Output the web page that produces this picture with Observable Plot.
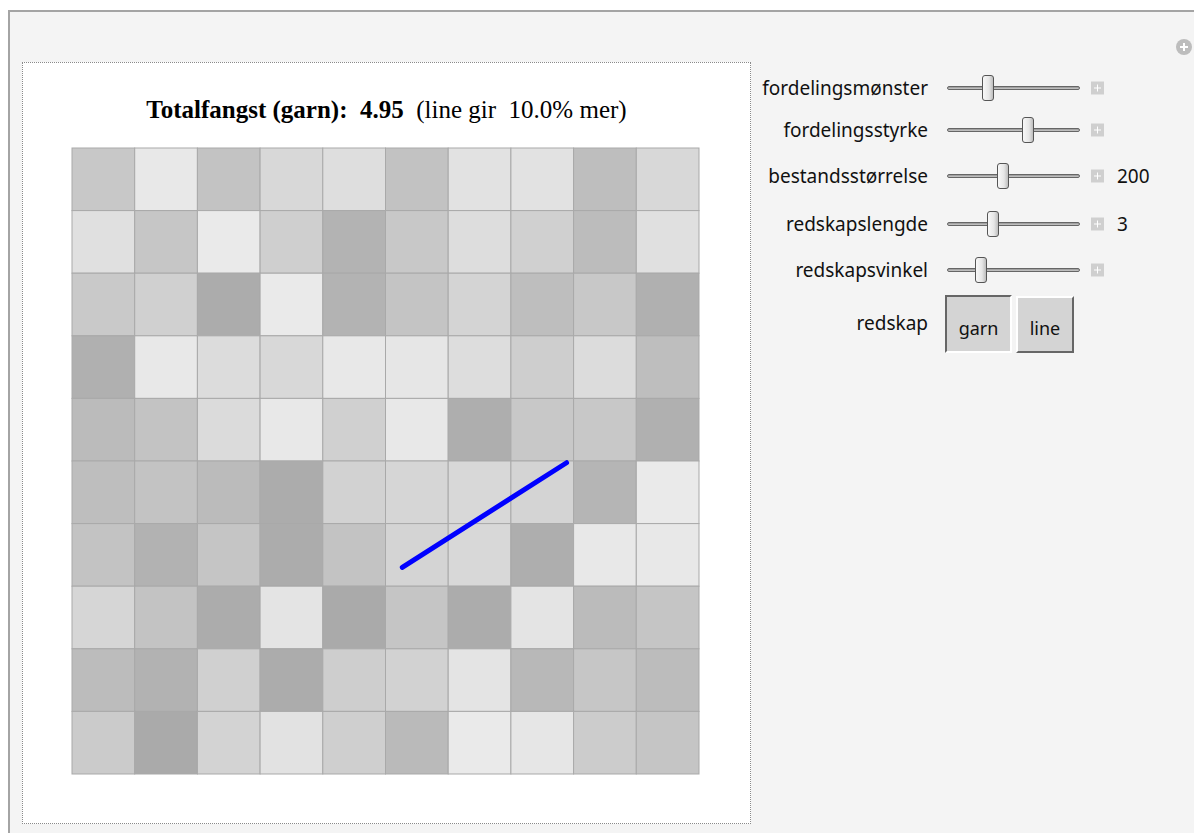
<!DOCTYPE html>
<html>
<head>
<meta charset="utf-8">
<script src="https://cdn.jsdelivr.net/npm/d3@7"></script>
<script src="https://cdn.jsdelivr.net/npm/@observablehq/plot@0.6"></script>
<style>
  html, body { margin: 0; padding: 0; background: #fff; }
  body { width: 1194px; height: 833px; position: relative; overflow: hidden; font-family: "Noto Sans", "Open Sans", sans-serif; }
  #frame { position: absolute; left: 8px; top: 10px; width: 1186px; height: 823px; background: #f4f4f4; border-left: 2px solid #a4a4a4; border-top: 2px solid #a4a4a4; box-sizing: border-box; }
  #panel { position: absolute; left: 22px; top: 62px; width: 729px; height: 762px; background: #fff; border: 1px dotted #8a8a8a; box-sizing: border-box; }
  #title { position: absolute; left: 0; width: 100%; top: 33px; text-align: center; font-family: "Liberation Serif", "DejaVu Serif", serif; font-size: 25px; color: #000; white-space: pre; }
  #chart { position: absolute; left: 48px; top: 84px; }
  .lab { position: absolute; right: 266px; font-size: 19px; color: #111; white-space: nowrap; transform: translateY(-50%); }
  .track { position: absolute; left: 947px; width: 133px; height: 4px; border-radius: 2px; background: linear-gradient(#777, #ddd 60%, #888); border: 1px solid #666; box-sizing: border-box; transform: translateY(-50%); }
  .knob { position: absolute; width: 12px; height: 26px; border-radius: 3px; border: 1px solid #555; background: linear-gradient(to right, #f8f8f8, #e6e6e6 60%, #bdbdbd); box-sizing: border-box; transform: translate(-50%, -50%); }
  .plus { position: absolute; left: 1091px; width: 13px; height: 13px; background: #cfcfcf; transform: translateY(-50%); }
  .plus::before { content: ""; position: absolute; left: 3px; top: 6px; width: 7px; height: 1px; background: #fff; }
  .plus::after { content: ""; position: absolute; left: 6px; top: 3px; width: 1px; height: 7px; background: #fff; }
  .val { position: absolute; left: 1117px; font-size: 19px; color: #111; transform: translateY(-50%); }
  .btn { position: absolute; background: #d4d4d4; font-size: 18px; color: #111; box-sizing: border-box; text-align: center; }
  #circ { position: absolute; left: 1176px; top: 39px; width: 16px; height: 16px; border-radius: 50%; background: #bdbdbd; }
  #circ::before { content: ""; position: absolute; left: 4px; top: 7px; width: 8px; height: 2px; background: #fff; }
  #circ::after { content: ""; position: absolute; left: 7px; top: 4px; width: 2px; height: 8px; background: #fff; }
</style>
</head>
<body>
<div id="frame"></div>
<div id="circ"></div>
<div id="panel">
  <div id="title"><b>Totalfangst (garn):  4.95</b>  (line gir  10.0% mer)</div>
  <div id="chart"></div>
</div>
<div id="controls"></div>
<script>
// Grid cell grey levels (0-255), rows from top (row 0) to bottom (row 9), columns left to right
const rad1  = [200, 232, 195, 216, 222, 194, 226, 226, 190, 216];
const rad2  = [224, 198, 234, 207, 179, 200, 221, 208, 188, 224];
const rad3  = [201, 208, 172, 234, 179, 196, 212, 190, 200, 176];
const rad4  = [176, 232, 220, 216, 232, 230, 221, 206, 220, 190];
const rad5  = [187, 195, 219, 232, 208, 232, 174, 200, 200, 176];
const rad6  = [190, 195, 187, 172, 210, 214, 216, 212, 181, 234];
const rad7  = [195, 178, 197, 172, 195, 212, 216, 174, 232, 232];
const rad8  = [214, 195, 172, 228, 170, 197, 172, 228, 187, 197];
const rad9  = [188, 178, 208, 172, 206, 210, 228, 184, 198, 188];
const rad10 = [203, 170, 211, 226, 207, 186, 234, 230, 204, 197];
const rader = [rad1, rad2, rad3, rad4, rad5, rad6, rad7, rad8, rad9, rad10];

// Gear (blue line) endpoints in grid units
const redskapX = [5.26, 7.88];
const redskapY = [3.31, 4.98];

// Control panel values
const kontrollNavn = ["fordelingsmønster", "fordelingsstyrke", "bestandsstørrelse", "redskapslengde", "redskapsvinkel"];
const kontrollPos  = [0.29, 0.62, 0.41, 0.33, 0.23];
const kontrollVerdi = ["", "", "200", "3", ""];

const celler = [];
rader.forEach((rad, r) => rad.forEach((g, c) => {
  celler.push({x1: c, x2: c + 1, y1: 9 - r, y2: 10 - r, grå: g});
}));
const linje = redskapX.map((x, i) => ({x, y: redskapY[i]}));

const plot = Plot.plot({
  width: 629,
  height: 628,
  marginTop: 1, marginRight: 1, marginBottom: 1, marginLeft: 1,
  x: {domain: [0, 10], axis: null},
  y: {domain: [0, 10], axis: null},
  color: {type: "linear", domain: [0, 255], range: ["rgb(0,0,0)", "rgb(255,255,255)"]},
  marks: [
    Plot.rect(celler, {x1: "x1", x2: "x2", y1: "y1", y2: "y2", fill: "grå", stroke: "#a9a9a9", strokeWidth: 1}),
    Plot.line(linje, {x: "x", y: "y", stroke: "#0000ff", strokeWidth: 5})
  ]
});
document.getElementById("chart").appendChild(plot);

// Controls (HTML)
const rowsY = [88, 130, 176, 224, 270];
const ctl = document.getElementById("controls");
kontrollNavn.forEach((navn, i) => {
  const y = rowsY[i];
  ctl.insertAdjacentHTML("beforeend",
    `<div class="lab" style="top:${y}px">${navn}</div>
     <div class="track" style="top:${y}px"></div>
     <div class="knob" style="left:${947 + 6 + kontrollPos[i] * 121}px; top:${y}px"></div>
     <div class="plus" style="top:${y}px"></div>
     ${kontrollVerdi[i] ? `<div class="val" style="top:${y}px">${kontrollVerdi[i]}</div>` : ""}`);
});
ctl.insertAdjacentHTML("beforeend",
  `<div class="lab" style="top:323px">redskap</div>
   <div class="btn" style="left:945px; top:295px; width:67px; height:58px; border-top:2px solid #666; border-left:2px solid #666; border-right:2px solid #fff; border-bottom:2px solid #fff; line-height:62px;">garn</div>
   <div class="btn" style="left:1016px; top:296px; width:58px; height:57px; border-top:2px solid #fff; border-left:2px solid #fff; border-right:2px solid #666; border-bottom:2px solid #666; line-height:60px;">line</div>`);
</script>
</body>
</html>
